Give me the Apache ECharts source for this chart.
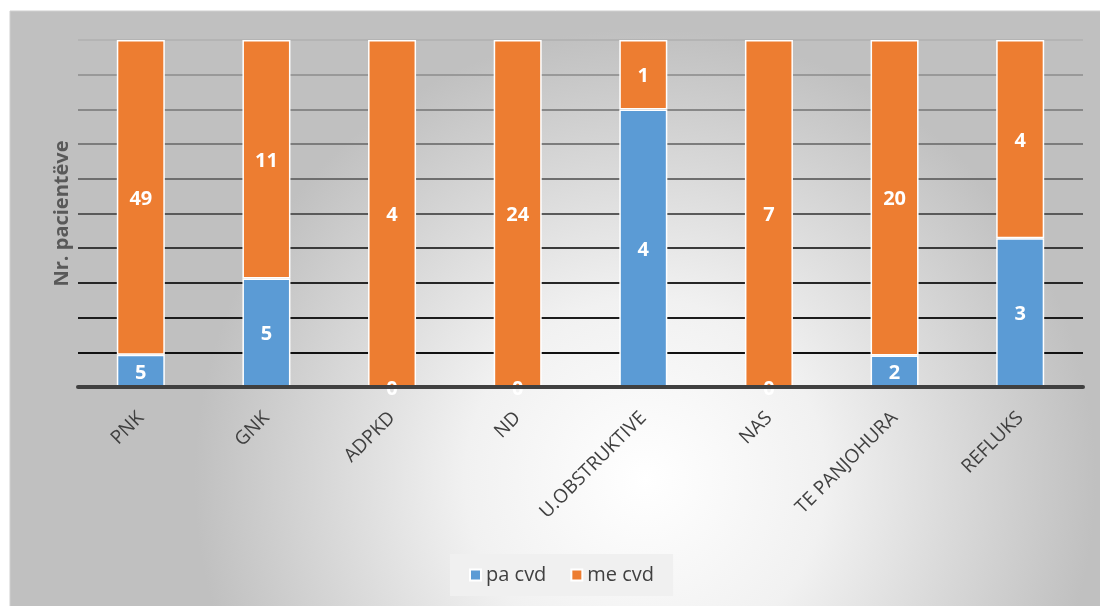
<!DOCTYPE html>
<html>
<head>
<meta charset="utf-8">
<script src="https://cdn.jsdelivr.net/npm/echarts@6/dist/echarts.min.js"></script>
<style>
html,body{margin:0;padding:0;background:#fff;}
#chart{width:1100px;height:606px;}
</style>
</head>
<body>
<div id="chart"></div>
<script>
// Diagnoses on the category axis
const categories = ['PNK', 'GNK', 'ADPKD', 'ND', 'U.OBSTRUKTIVE', 'NAS', 'TE PANJOHURA', 'REFLUKS'];
// Patient counts per group
const paCvd = [5, 5, 0, 0, 4, 0, 2, 3];
const meCvd = [49, 11, 4, 24, 1, 7, 20, 4];
const seriesNames = ['pa cvd', 'me cvd'];
const yAxisTitle = 'Nr. pacientëve';

// Each column is scaled to 100 % of its group; labels keep the raw counts
const totals = categories.map((_, i) => paCvd[i] + meCvd[i]);
const toShare = arr => arr.map((v, i) => ({ value: v / totals[i] * 100, count: v }));

const font = '"Open Sans", "Noto Sans", sans-serif';
const chart = echarts.init(document.getElementById('chart'), null, { renderer: 'canvas' });

const labelStyle = {
  show: true,
  position: 'inside',
  offset: [0, 2],
  color: '#ffffff',
  fontFamily: font,
  fontWeight: 'bold',
  fontSize: 20,
  formatter: p => p.data.count
};

chart.setOption({
  animation: false,
  textStyle: { fontFamily: font },
  graphic: [
    {
      type: 'rect',
      silent: true,
      z: -10,
      shape: { x: 10, y: 11, width: 1095, height: 600 },
      style: {
        fill: new echarts.graphic.RadialGradient(0.58, 0.78, 0.75, [
          { offset: 0, color: '#ffffff' },
          { offset: 0.4, color: '#f1f1f1' },
          { offset: 1, color: '#c0c0c0' }
        ]),
        stroke: '#cfcfcf',
        lineWidth: 1
      }
    }
  ],
  grid: { left: 78, right: 17, top: 40, bottom: 219 },
  legend: {
    data: seriesNames,
    bottom: 10,
    left: 450,
    itemWidth: 11,
    itemHeight: 11,
    itemGap: 24,
    padding: [11, 19, 11, 19],
    backgroundColor: '#f0f0f0',
    icon: 'rect',
    textStyle: { color: '#404040', fontSize: 20, fontFamily: font }
  },
  xAxis: {
    type: 'category',
    data: categories,
    z: 5,
    axisLine: { lineStyle: { color: '#404040', width: 4 } },
    axisTick: { show: false },
    axisLabel: {
      rotate: 45,
      color: '#404040',
      fontSize: 19,
      fontFamily: font,
      margin: 28,
      interval: 0
    }
  },
  yAxis: {
    type: 'value',
    min: 0,
    max: 100,
    interval: 10,
    name: yAxisTitle,
    nameLocation: 'middle',
    nameGap: 6,
    nameTextStyle: { color: '#595959', fontSize: 20, fontWeight: 'bold', fontFamily: font },
    axisLabel: { show: false },
    axisLine: { show: false },
    axisTick: { show: false },
    splitLine: {
      lineStyle: {
        width: 2,
        color: ['#000000', '#111111', '#1c1c1c', '#262626', '#3a3a3a', '#5a5a5a',
                '#6e6e6e', '#7c7c7c', '#888888', '#999999', '#b4b4b4']
      }
    }
  },
  series: [
    {
      name: seriesNames[0],
      type: 'bar',
      stack: 'total',
      barWidth: 48,
      data: toShare(paCvd),
      itemStyle: { color: '#5B9BD5', borderColor: '#ffffff', borderWidth: 1.5 },
      label: labelStyle
    },
    {
      name: seriesNames[1],
      type: 'bar',
      stack: 'total',
      barWidth: 48,
      data: toShare(meCvd),
      itemStyle: { color: '#ED7D31', borderColor: '#ffffff', borderWidth: 1.5 },
      label: labelStyle
    }
  ]
});
</script>
</body>
</html>
